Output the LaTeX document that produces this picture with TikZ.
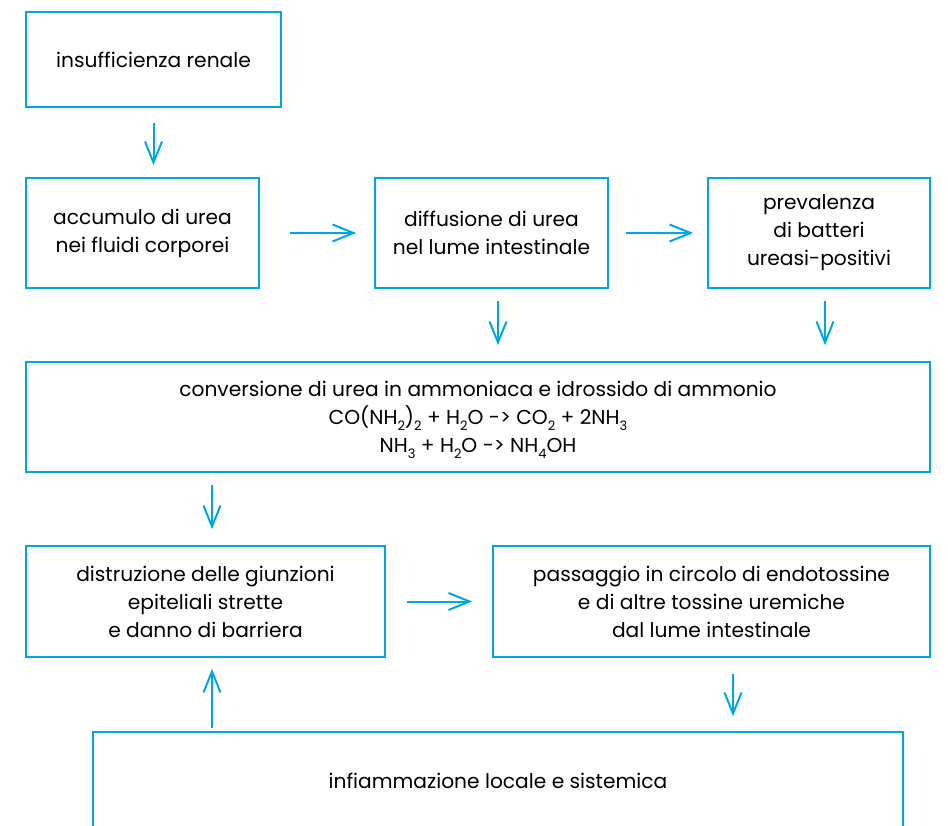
\documentclass[tikz,border=0pt]{standalone}
\usepackage{fontspec}
\setmainfont{Poppins}
\usetikzlibrary{arrows.meta}
\definecolor{flowblue}{RGB}{0,167,224}
% chemical index set low, as in the formulas, without adding line depth
\newcommand{\lowsub}[1]{\smash{\raisebox{-0.55ex}{\fontsize{13}{13}\selectfont #1}}}
\tikzset{
  box/.style={draw=flowblue, line width=1.6pt, rectangle, align=center, inner sep=0pt,
    font=\fontsize{20.2}{28}\selectfont, text=black},
  arr/.style={draw=flowblue, line width=2pt, -{Straight Barb[length=21pt,width=17pt,line width=2pt]}},
}
\begin{document}
\begin{tikzpicture}[x=1pt,y=-1pt]
\useasboundingbox (0,0) rectangle (948,826);
\clip (0,0) rectangle (948,826);
% boxes
\node[box, minimum width=255, minimum height=95] (ins) at (153.5,59.5) {insufficienza renale};
\node[box, minimum width=233, minimum height=110] (acc) at (142.5,233) {accumulo di urea\\nei fluidi corporei};
\node[box, minimum width=233, minimum height=110] (dif) at (491.5,233) {diffusione di urea\\nel lume intestinale};
\node[box, minimum width=222, minimum height=110] (pre) at (819,233) {prevalenza\\di batteri\\ureasi-positivi};
\node[box, minimum width=904, minimum height=110] (con) at (478,417) {conversione di urea in ammoniaca e idrossido di ammonio\\
  CO(NH\lowsub{2})\lowsub{2} + H\lowsub{2}O -> CO\lowsub{2} + 2NH\lowsub{3}\\
  NH\lowsub{3} + H\lowsub{2}O -> NH\lowsub{4}OH};
\node[box, minimum width=359, minimum height=111] (dis) at (205.5,601.5) {distruzione delle giunzioni\\epiteliali strette\\e danno di barriera};
\node[box, minimum width=437, minimum height=111] (pas) at (711.5,601.5) {passaggio in circolo di endotossine\\e di altre tossine uremiche\\dal lume intestinale};
\node[box, minimum width=810, minimum height=98] (inf) at (498,781) {infiammazione locale e sistemica};
% connectors
\draw[arr, shorten <=15pt, shorten >=12pt] (ins.south) -- (ins.south |- acc.north);
\draw[arr, shorten <=30pt, shorten >=18pt] (acc.east) -- (dif.west);
\draw[arr, shorten <=17pt, shorten >=14pt] (dif.east) -- (pre.west);
\draw[arr, shorten <=12pt, shorten >=16pt] ([xshift=6.5pt]dif.south) -- ([xshift=6.5pt]dif.south |- con.north);
\draw[arr, shorten <=12pt, shorten >=16pt] ([xshift=6pt]pre.south) -- ([xshift=6pt]pre.south |- con.north);
\draw[arr, shorten <=12pt, shorten >=16pt] ([xshift=6.5pt]dis.north |- con.south) -- ([xshift=6.5pt]dis.north);
\draw[arr, shorten <=21pt, shorten >=20pt] (dis.east) -- (pas.west);
\draw[arr, shorten <=3pt, shorten >=11pt] ([xshift=6.5pt]dis.south |- inf.north) -- ([xshift=6.5pt]dis.south);
\draw[arr, shorten <=16pt, shorten >=15pt] ([xshift=21.5pt]pas.south) -- ([xshift=21.5pt]pas.south |- inf.north);
\end{tikzpicture}
\end{document}
